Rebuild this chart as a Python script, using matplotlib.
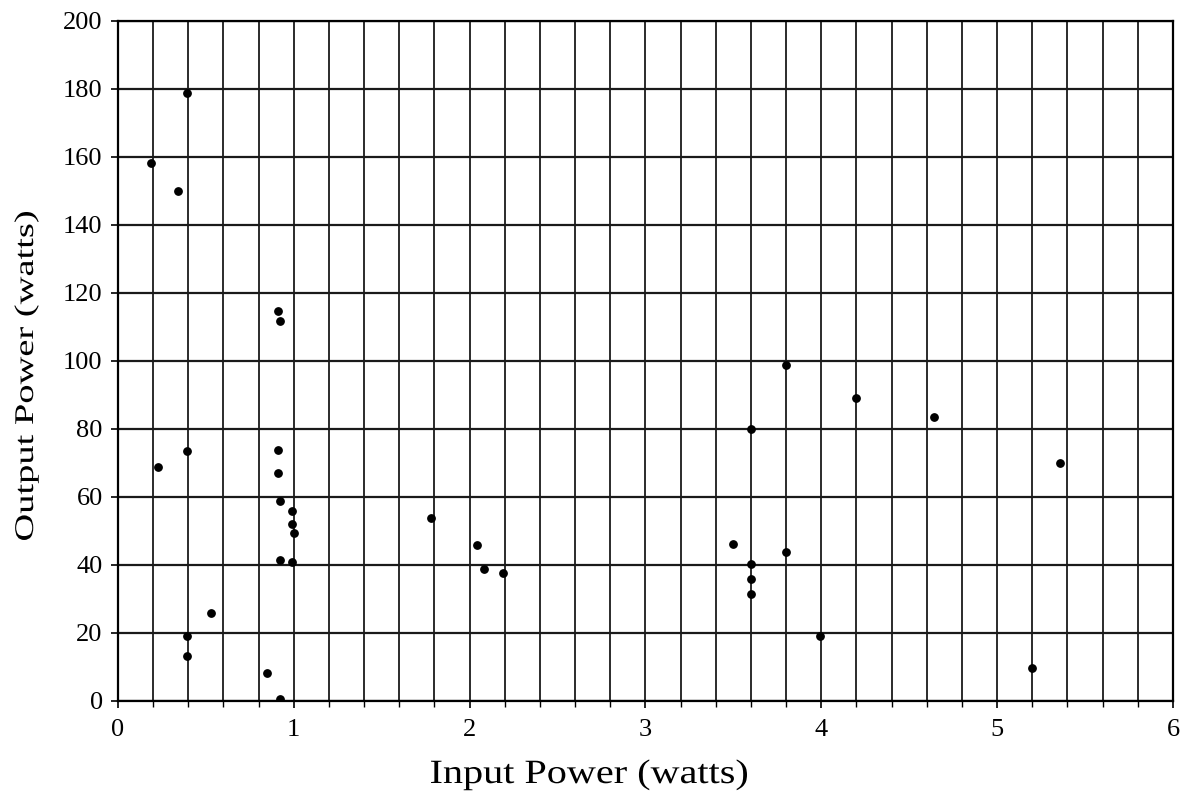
import matplotlib
matplotlib.use("Agg")
import matplotlib.pyplot as plt
from matplotlib.ticker import MultipleLocator
from matplotlib.textpath import TextPath
from matplotlib.patches import PathPatch
from matplotlib.font_manager import FontProperties
from matplotlib.transforms import Affine2D

# measured points: input power vs output power (watts)
input_power = [0.19, 0.34, 0.39, 0.23, 0.39, 0.91, 0.92, 0.91, 0.91,
               0.92, 0.99, 0.99, 1.00, 0.92, 0.99, 0.53, 0.39, 0.39,
               0.85, 0.92, 1.78, 2.04, 2.08, 2.19, 3.50, 3.60, 3.60,
               3.60, 3.60, 3.80, 3.99, 3.80, 4.20, 4.64, 5.36, 5.20]
output_power = [158.3, 150.0, 178.7, 68.9, 73.4, 114.8, 111.8, 73.7, 67.1,
                58.7, 55.9, 52.1, 49.4, 41.6, 40.9, 25.8, 19.2, 13.3,
                8.2, 0.6, 53.7, 46.0, 38.7, 37.5, 46.2, 80.0, 40.3,
                35.8, 31.5, 43.7, 19.0, 98.9, 89.0, 83.6, 69.9, 9.8]

x_ticks = [0, 1, 2, 3, 4, 5, 6]
y_ticks = list(range(0, 201, 20))

plt.rcParams['font.family'] = ['Liberation Serif', 'DejaVu Serif']
serif = FontProperties(family='Liberation Serif')


def stretched_label(fig, text, size_px, length_px, x0, y0, angle=0):
    """Draw text as a path, scaled along its baseline to a given length.
    x0, y0 are the start of the baseline in pixels (origin bottom-left)."""
    tp = TextPath((0, 0), text, size=size_px, prop=serif)
    ext = tp.get_extents()
    sx = length_px / ext.width
    tr = (Affine2D().translate(-ext.x0, 0).scale(sx, 1)
          .rotate_deg(angle).translate(x0, y0))
    fig.add_artist(PathPatch(tp, transform=tr, facecolor='black',
                             edgecolor='none'))


fig = plt.figure(figsize=(11.89, 8.07), dpi=100)
H = 807
ax = fig.add_axes([0.0992, 0.1314, 0.8873, 0.8426])

ax.set_xlim(0, 6)
ax.set_ylim(0, 200)
ax.set_xticks(x_ticks)
ax.set_yticks(y_ticks)
ax.xaxis.set_minor_locator(MultipleLocator(0.2))

ax.grid(True, axis='x', which='both', color='#1a1a1a', linewidth=1.3)
ax.grid(True, axis='y', which='major', color='#1a1a1a', linewidth=1.6)
ax.set_axisbelow(True)

ax.scatter(input_power, output_power, s=28, color='black', zorder=3)

for side in ['left', 'bottom', 'right', 'top']:
    ax.spines[side].set_color('black')
    ax.spines[side].set_linewidth(1.6)

ax.tick_params(axis='both', which='major', direction='out', length=5,
               width=1.2, labelsize=19, pad=6, colors='black')
ax.tick_params(axis='x', which='minor', direction='out', length=4, width=1.0)
ax.tick_params(axis='x', which='major', pad=8)

# axis titles
stretched_label(fig, 'Input Power (watts)', 34, 316, 431, H - 783)
stretched_label(fig, 'Output Power (watts)', 27, 328, 33, H - 540, angle=90)

fig.savefig('out.png', dpi=100, facecolor='white')
